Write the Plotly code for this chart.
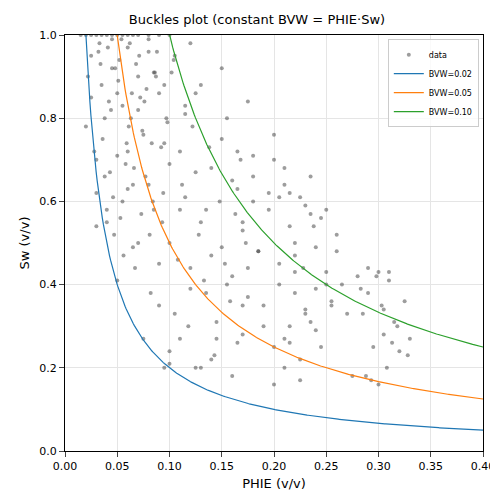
import numpy as np
import plotly.graph_objects as go

# scatter data
phie = [0.02, 0.025, 0.03, 0.035, 0.04, 0.045, 0.05, 0.055, 0.06, 0.065, 0.07, 0.075, 0.08, 0.085, 0.09,
        0.022, 0.028, 0.033, 0.038, 0.042, 0.047, 0.052, 0.058, 0.063, 0.068, 0.073, 0.078, 0.083, 0.088, 0.094,
        0.025, 0.03, 0.036, 0.041, 0.046, 0.051, 0.056, 0.061, 0.066, 0.071, 0.076, 0.081, 0.086, 0.092, 0.097,
        0.03, 0.034, 0.04, 0.044, 0.05, 0.054, 0.06, 0.064, 0.07, 0.074, 0.08, 0.084, 0.09, 0.095, 0.1,
        0.032, 0.038, 0.043, 0.048, 0.053, 0.059, 0.062, 0.067, 0.072, 0.077, 0.082, 0.087, 0.093, 0.098, 0.104,
        0.045, 0.05, 0.055, 0.06, 0.065, 0.07, 0.075, 0.08, 0.085, 0.09, 0.095, 0.1, 0.105, 0.11, 0.115,
        0.1, 0.105, 0.11, 0.115, 0.12, 0.125, 0.13, 0.135, 0.14, 0.145, 0.15, 0.155, 0.16, 0.165, 0.17,
        0.102, 0.108, 0.112, 0.118, 0.122, 0.128, 0.133, 0.138, 0.143, 0.148, 0.153, 0.158, 0.163, 0.168, 0.173,
        0.11, 0.115, 0.12, 0.125, 0.13, 0.135, 0.14, 0.145, 0.15, 0.155, 0.16, 0.165, 0.17, 0.175, 0.18,
        0.12, 0.125, 0.13, 0.14, 0.15, 0.16, 0.17, 0.175, 0.18, 0.185, 0.19, 0.195, 0.2, 0.21, 0.22,
        0.165, 0.17, 0.175, 0.18, 0.185, 0.19, 0.195, 0.2, 0.205, 0.21, 0.215, 0.22, 0.225, 0.23, 0.235,
        0.2, 0.205, 0.21, 0.215, 0.22, 0.225, 0.23, 0.235, 0.24, 0.245, 0.25, 0.255, 0.26, 0.215, 0.225,
        0.235, 0.24, 0.245, 0.25, 0.2, 0.21, 0.22, 0.23, 0.24, 0.25, 0.26, 0.205, 0.215, 0.228, 0.238,
        0.28, 0.285, 0.29, 0.295, 0.3, 0.305, 0.31, 0.315, 0.32, 0.325, 0.33, 0.283, 0.293, 0.303, 0.313,
        0.288, 0.298, 0.308, 0.318, 0.328, 0.3, 0.305, 0.31, 0.29, 0.27, 0.275, 0.265, 0.255, 0.1, 0.095,
        0.015, 0.02, 0.025, 0.03, 0.035, 0.04, 0.045, 0.05, 0.055, 0.06, 0.065, 0.07, 0.08, 0.09, 0.1]
sw = [0.78, 0.95, 0.62, 0.88, 0.55, 0.92, 0.71, 0.83, 0.97, 0.64, 0.9, 0.76, 0.99, 0.58, 0.86,
      0.9, 0.72, 0.98, 0.66, 0.84, 0.52, 0.94, 0.69, 0.8, 0.93, 0.57, 0.87, 0.74, 0.96, 0.62,
      0.85, 0.54, 0.75, 0.97, 0.61, 0.89, 0.47, 0.78, 0.68, 0.95, 0.84, 0.52, 0.91, 0.73, 0.8,
      0.7, 0.93, 0.58, 0.82, 0.41, 0.99, 0.63, 0.86, 0.5, 0.77, 0.96, 0.6, 0.45, 0.88, 0.69,
      0.96, 0.8, 0.67, 0.92, 0.56, 0.74, 0.98, 0.44, 0.85, 0.66, 0.38, 0.9, 0.55, 0.79, 0.94,
      0.99, 0.86, 0.6, 0.72, 0.49, 0.82, 0.27, 0.64, 0.91, 0.35, 0.74, 0.21, 0.95, 0.58, 0.83,
      0.5, 0.33, 0.72, 0.61, 0.44, 0.86, 0.55, 0.38, 0.68, 0.27, 0.49, 0.8, 0.42, 0.63, 0.35,
      0.91, 0.46, 0.64, 0.3, 0.78, 0.52, 0.41, 0.73, 0.23, 0.6, 0.45, 0.36, 0.57, 0.7, 0.5,
      0.27, 0.81, 0.39, 0.67, 0.2, 0.58, 0.47, 0.31, 0.75, 0.4, 0.65, 0.26, 0.53, 0.44, 0.6,
      0.98, 0.2, 0.88, 0.22, 0.92, 0.18, 0.28, 0.84, 0.71, 0.48, 0.35, 0.62, 0.25, 0.68, 0.43,
      0.72, 0.55, 0.37, 0.66, 0.48, 0.3, 0.58, 0.76, 0.4, 0.64, 0.26, 0.5, 0.61, 0.34, 0.57,
      0.16, 0.45, 0.27, 0.54, 0.38, 0.22, 0.59, 0.31, 0.49, 0.25, 0.43, 0.35, 0.52, 0.62, 0.17,
      0.66, 0.29, 0.56, 0.4, 0.7, 0.2, 0.47, 0.33, 0.39, 0.58, 0.48, 0.61, 0.3, 0.44, 0.54,
      0.42, 0.33, 0.38, 0.25, 0.43, 0.28, 0.41, 0.31, 0.24, 0.36, 0.27, 0.39, 0.17, 0.35, 0.26,
      0.18, 0.42, 0.2, 0.3, 0.23, 0.16, 0.34, 0.43, 0.44, 0.33, 0.18, 0.4, 0.36, 0.24, 0.2,
      1.0, 1.0, 1.0, 1.0, 1.0, 1.0, 1.0, 1.0, 1.0, 1.0, 1.0, 1.0, 1.0, 1.0, 1.0]

bvw_values = [0.02, 0.05, 0.10]
bvw_colors = ["#1f77b4", "#ff7f0e", "#2ca02c"]

fig = go.Figure()
fig.add_trace(go.Scatter(x=phie, y=sw, mode="markers", name="data",
                         marker=dict(size=4, color="rgba(60,60,60,0.5)")))

x_curve = np.linspace(0.005, 0.40, 400)
for b, c in zip(bvw_values, bvw_colors):
    fig.add_trace(go.Scatter(x=x_curve, y=b / x_curve, mode="lines", name=f"BVW={b:.2f}",
                             line=dict(color=c, width=1.2)))

fig.update_layout(
    width=498, height=492, template="none",
    font=dict(family="DejaVu Sans", size=11, color="black"),
    title=dict(text="Buckles plot (constant BVW = PHIE·Sw)", x=0.5, xanchor="center", y=0.985,
               font=dict(size=13)),
    margin=dict(l=57, r=23, t=27, b=49, pad=0),
    plot_bgcolor="white",
    legend=dict(x=0.99, y=0.99, xanchor="right", yanchor="top", bordercolor="#ccc", borderwidth=1,
                font=dict(size=8), bgcolor="rgba(255,255,255,0.8)", tracegroupgap=0,
                itemwidth=30),
)
fig.update_xaxes(range=[0, 0.40], dtick=0.05, tickformat=".2f", title=dict(text="PHIE (v/v)", standoff=6),
                 showgrid=True, gridcolor="#e5e5e5", showline=True, linecolor="black", mirror=True,
                 ticks="outside", zeroline=False, automargin=False)
fig.update_yaxes(range=[0, 1.0], dtick=0.2, tickformat=".1f", title=dict(text="Sw (v/v)", standoff=6),
                 showgrid=True, gridcolor="#e5e5e5", showline=True, linecolor="black", mirror=True,
                 ticks="outside", zeroline=False, automargin=False)

fig.write_html("out.html")
